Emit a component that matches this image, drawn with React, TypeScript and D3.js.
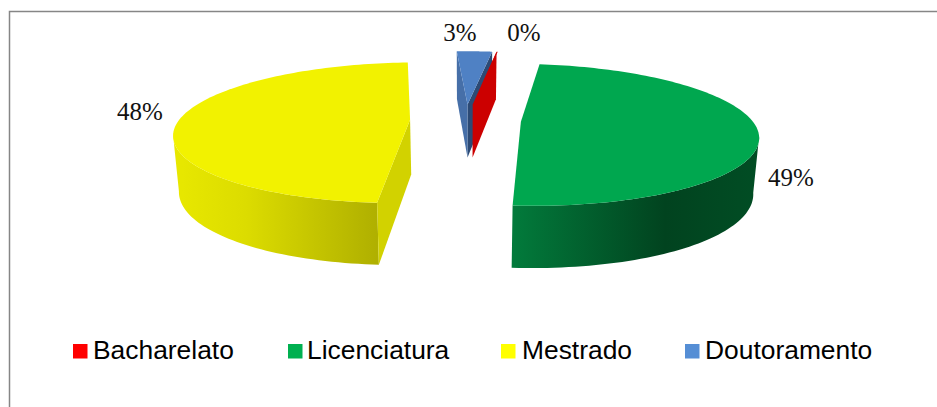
import React from "react";
import * as d3 from "d3";

// Graus académicos: percentagens rotuladas e uma fatia residual que arredonda para 0%.
const categories = ["Bacharelato", "Licenciatura", "Mestrado", "Doutoramento"];
const shares = [0.1, 49, 48, 3];
const labels = ["0%", "49%", "48%", "3%"];
const topColors = ["#cc0000", "#00a74f", "#f2f200", "#4f81c4"];
const legendColors = ["#ff0000", "#00b050", "#ffff00", "#558ed5"];
const legendSwatchX = [73, 288, 501, 685];
const legendTextX = [93, 307, 522, 705];
const labelAnchors: [number, number][] = [[524, 41], [791, 186], [140, 120], [460, 41]];

const WIDTH = 937;
const HEIGHT = 407;
const START_DEG = 7.6;
const CX = 465.5;
const CY = 120;
const RX = 231;
const RY = 68;
const PERSPECTIVE = 0.183;
const EXPLODE = 0.24;
const DEPTH = 54.6;
const DEPTH_PERSPECTIVE = 0.12;
const BASE_SHRINK = 0.98;

type Pt = [number, number];

// Projects a point of the pie plane (u to the right, v away from the viewer).
const projectTop = (u: number, v: number): Pt => {
  const w = 1 + PERSPECTIVE * v;
  return [CX + (RX * u) / w, CY - (RY * v) / w];
};
const projectBase = (u: number, v: number): Pt => {
  const [x, y] = projectTop(u, v);
  return [CX + (x - CX) * BASE_SHRINK, y + DEPTH / (1 + DEPTH_PERSPECTIVE * v)];
};

const toPath = d3.line<Pt>();

const pieLayout = d3
  .pie<number>()
  .sort(null)
  .startAngle((START_DEG * Math.PI) / 180)
  .endAngle((START_DEG * Math.PI) / 180 + 2 * Math.PI);

const arcs = pieLayout(shares);

const slices = arcs.map((a) => {
  const mid = (a.startAngle + a.endAngle) / 2;
  const ou = EXPLODE * Math.sin(mid);
  const ov = EXPLODE * Math.cos(mid);
  const angles = d3.range(0, 121).map((i) => a.startAngle + ((a.endAngle - a.startAngle) * i) / 120);
  const rim = angles.map((t) => [ou + Math.sin(t), ov + Math.cos(t)] as Pt);
  // The outer wall is cut at the ellipse's side extremes, where it meets its silhouette.
  const front = angles
    .map((t, i) => ({ t, p: rim[i] }))
    .filter((d) => Math.cos(d.t) < -0.2)
    .map((d) => d.p);
  return {
    apexTop: projectTop(ou, ov),
    apexBase: projectBase(ou, ov),
    topRim: rim.map(([u, v]) => projectTop(u, v)),
    baseRim: rim.map(([u, v]) => projectBase(u, v)),
    wallTop: front.map(([u, v]) => projectTop(u, v)),
    wallBase: front.map(([u, v]) => projectBase(u, v)),
  };
});

const wallPath = (i: number) => {
  const s = slices[i];
  return toPath([...s.wallTop, ...s.wallBase.slice().reverse()]) + "Z";
};
const topPath = (i: number) => {
  const s = slices[i];
  return toPath([s.apexTop, ...s.topRim]) + "Z";
};
// Flat cut faces: the one at the slice's start edge and the one at its end edge.
const startFace = (i: number) => {
  const s = slices[i];
  return toPath([s.apexTop, s.topRim[0], s.baseRim[0], s.apexBase]) + "Z";
};
const endFace = (i: number) => {
  const s = slices[i];
  const n = s.topRim.length - 1;
  return toPath([s.apexTop, s.topRim[n], s.baseRim[n], s.apexBase]) + "Z";
};

// Painter's order: small far slices first, then the two large ones.
const Bacharelato = 0;
const Licenciatura = 1;
const Mestrado = 2;
const Doutoramento = 3;

export default function App() {
  return (
    <svg
      width={WIDTH}
      height={HEIGHT}
      viewBox={`0 0 ${WIDTH} ${HEIGHT}`}
      style={{ position: "absolute", left: 0, top: 0, background: "#fff" }}
    >
      <defs>
        <linearGradient id="wall-lic" gradientUnits="userSpaceOnUse" x1={514} x2={758} y1={0} y2={0}>
          <stop offset="0" stopColor="#027a3b" />
          <stop offset="0.62" stopColor="#01431f" />
          <stop offset="1" stopColor="#014d24" />
        </linearGradient>
        <linearGradient id="wall-mes" gradientUnits="userSpaceOnUse" x1={176} x2={376} y1={0} y2={0}>
          <stop offset="0" stopColor="#e8e800" />
          <stop offset="0.35" stopColor="#dcdc00" />
          <stop offset="1" stopColor="#b0b000" />
        </linearGradient>
      </defs>

      <path d="M9.5 407V11.5H937" fill="none" stroke="#868686" strokeWidth={1.5} />

      {/* Doutoramento */}
      <path d={endFace(Doutoramento)} fill="#2c4a75" />
      <path d={startFace(Doutoramento)} fill="#466fa8" />
      <path d={topPath(Doutoramento)} fill={topColors[Doutoramento]} />

      {/* Bacharelato */}
      <path d={startFace(Bacharelato)} fill="#cc0000" />
      <path d={topPath(Bacharelato)} fill={topColors[Bacharelato]} />

      {/* Mestrado */}
      <path d={wallPath(Mestrado)} fill="url(#wall-mes)" />
      <path d={startFace(Mestrado)} fill="#d2d200" />
      <path d={topPath(Mestrado)} fill={topColors[Mestrado]} />

      {/* Licenciatura */}
      <path d={wallPath(Licenciatura)} fill="url(#wall-lic)" />
      <path d={topPath(Licenciatura)} fill={topColors[Licenciatura]} />

      {labels.map((t, i) => (
        <text
          key={t}
          x={labelAnchors[i][0]}
          y={labelAnchors[i][1]}
          textAnchor="middle"
          fontFamily="'Liberation Serif', serif"
          fontSize={25}
          fill="#111"
        >
          {t}
        </text>
      ))}

      {categories.map((c, i) => (
        <g key={c}>
          <rect x={legendSwatchX[i]} y={344} width={14.5} height={14.5} fill={legendColors[i]} />
          <text
            x={legendTextX[i]}
            y={359}
            fontFamily="'Liberation Sans', sans-serif"
            fontSize={26.4}
            fill="#000"
          >
            {c}
          </text>
        </g>
      ))}
    </svg>
  );
}
